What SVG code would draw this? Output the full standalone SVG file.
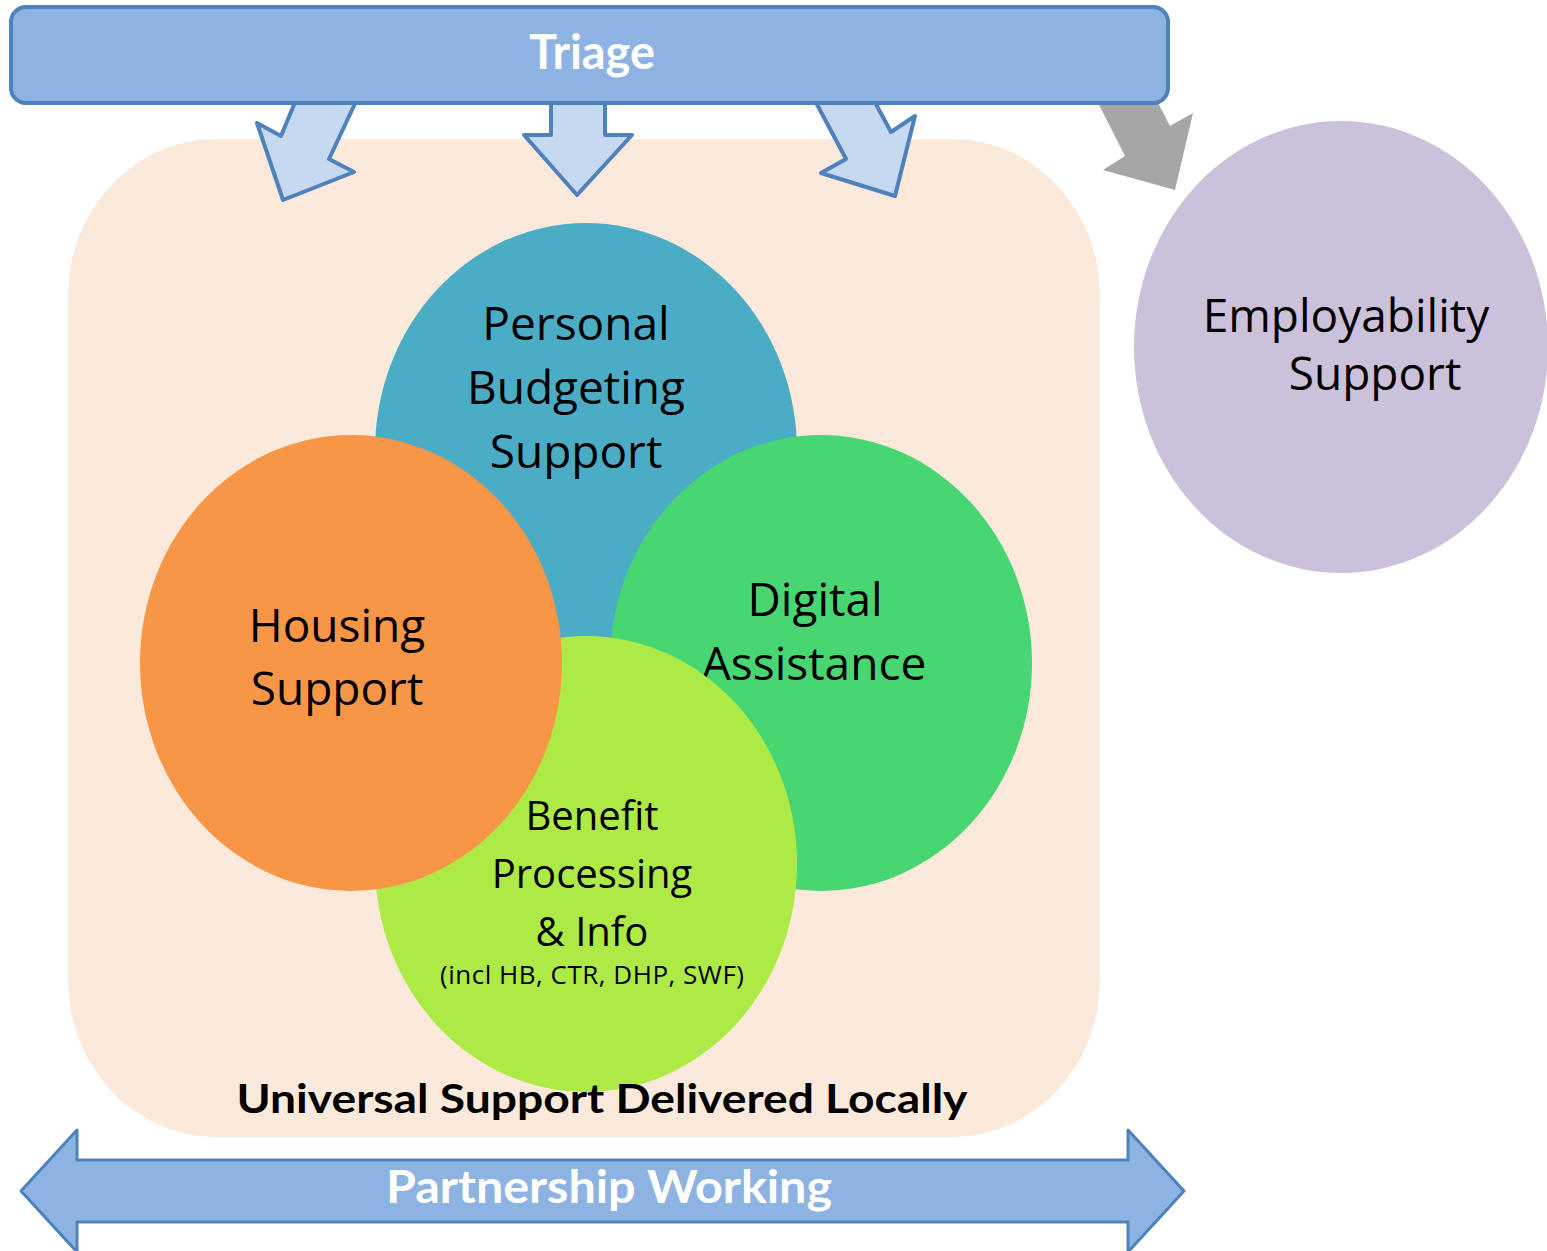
<svg xmlns="http://www.w3.org/2000/svg" width="1547" height="1251" viewBox="0 0 1547 1251">
  <style>
    .lbl { font-family: "Open Sans", "Noto Sans", "Liberation Sans", sans-serif; font-size: 46px; fill: #000; text-anchor: middle; }
    .sm { font-size: 40px; }
    .xs { font-size: 26px; }
    .bold { font-family: Lato, "Open Sans", "Liberation Sans", sans-serif; font-weight: bold; text-anchor: middle; }
    .down { fill: #c6d9f1; stroke: #4f81bd; stroke-width: 4; stroke-linejoin: round; }
    .band { fill: #8db3e2; stroke: #4f81bd; }
  </style>

  <!-- background panel -->
  <g id="panel">
    <rect x="68" y="139" width="1032" height="998" rx="148" ry="157" fill="#fbeadb"/>
  </g>

  <!-- connectors from triage -->
  <g id="connectors">
    <polygon class="down" points="298,95 359,95 329,159 354,172 283,200 257,123 281,136"/>
    <polygon class="down" points="551,95 605,95 605,135 632,135 577,195 524,135 551,135"/>
    <polygon class="down" points="812,95 871,95 891,132 915,116 895,196 821,173 846,159"/>
    <polygon fill="#a6a6a6" points="1094,95 1154,95 1170,126 1193,113 1175,190 1103,170 1125,156"/>
  </g>

  <g id="triage">
    <rect class="band" x="11" y="7" width="1157" height="96" rx="15" ry="15" stroke-width="4"/>
    <text class="bold" x="592" y="69" font-size="48" fill="#fff" textLength="126" lengthAdjust="spacingAndGlyphs">Triage</text>
  </g>

  <g id="personal-budgeting">
    <ellipse cx="586" cy="451" rx="211" ry="228" fill="#4bacc6"/>
    <text class="lbl" x="576" y="340">Personal</text>
    <text class="lbl" x="576" y="404">Budgeting</text>
    <text class="lbl" x="576" y="468">Support</text>
  </g>

  <g id="digital-assistance">
    <ellipse cx="821" cy="663" rx="211" ry="228" fill="#48d672"/>
    <text class="lbl" x="815" y="616">Digital</text>
    <text class="lbl" x="814" y="680">Assistance</text>
  </g>

  <g id="benefit-processing">
    <ellipse cx="586" cy="864" rx="211" ry="228" fill="#adea46"/>
    <text class="lbl sm" x="592" y="830">Benefit</text>
    <text class="lbl sm" x="592" y="888">Processing</text>
    <text class="lbl sm" x="592" y="946">&amp; Info</text>
    <text class="lbl xs" x="592" y="984" textLength="304">(incl HB, CTR, DHP, SWF)</text>
  </g>

  <g id="housing-support">
    <ellipse cx="351" cy="663" rx="211" ry="228" fill="#f79646"/>
    <text class="lbl" x="337" y="642">Housing</text>
    <text class="lbl" x="337" y="705">Support</text>
  </g>

  <!-- panel caption, drawn above the circles -->
  <g id="panel-caption">
    <text class="bold" x="602" y="1113" font-size="40" fill="#000" textLength="731" lengthAdjust="spacingAndGlyphs">Universal Support Delivered Locally</text>
  </g>

  <g id="employability-support">
    <ellipse cx="1341" cy="347" rx="207" ry="226" fill="#ccc1da"/>
    <text class="lbl" x="1346" y="332">Employability</text>
    <text class="lbl" x="1375" y="390">Support</text>
  </g>

  <g id="partnership-working">
    <polygon class="band" stroke-width="3" stroke-linejoin="round" points="21,1191 77,1130 77,1160 1128,1160 1128,1130 1184,1191 1128,1252 1128,1222 77,1222 77,1252"/>
    <text class="bold" x="609" y="1203" font-size="46" fill="#fff" textLength="446" lengthAdjust="spacingAndGlyphs">Partnership Working</text>
  </g>
</svg>
